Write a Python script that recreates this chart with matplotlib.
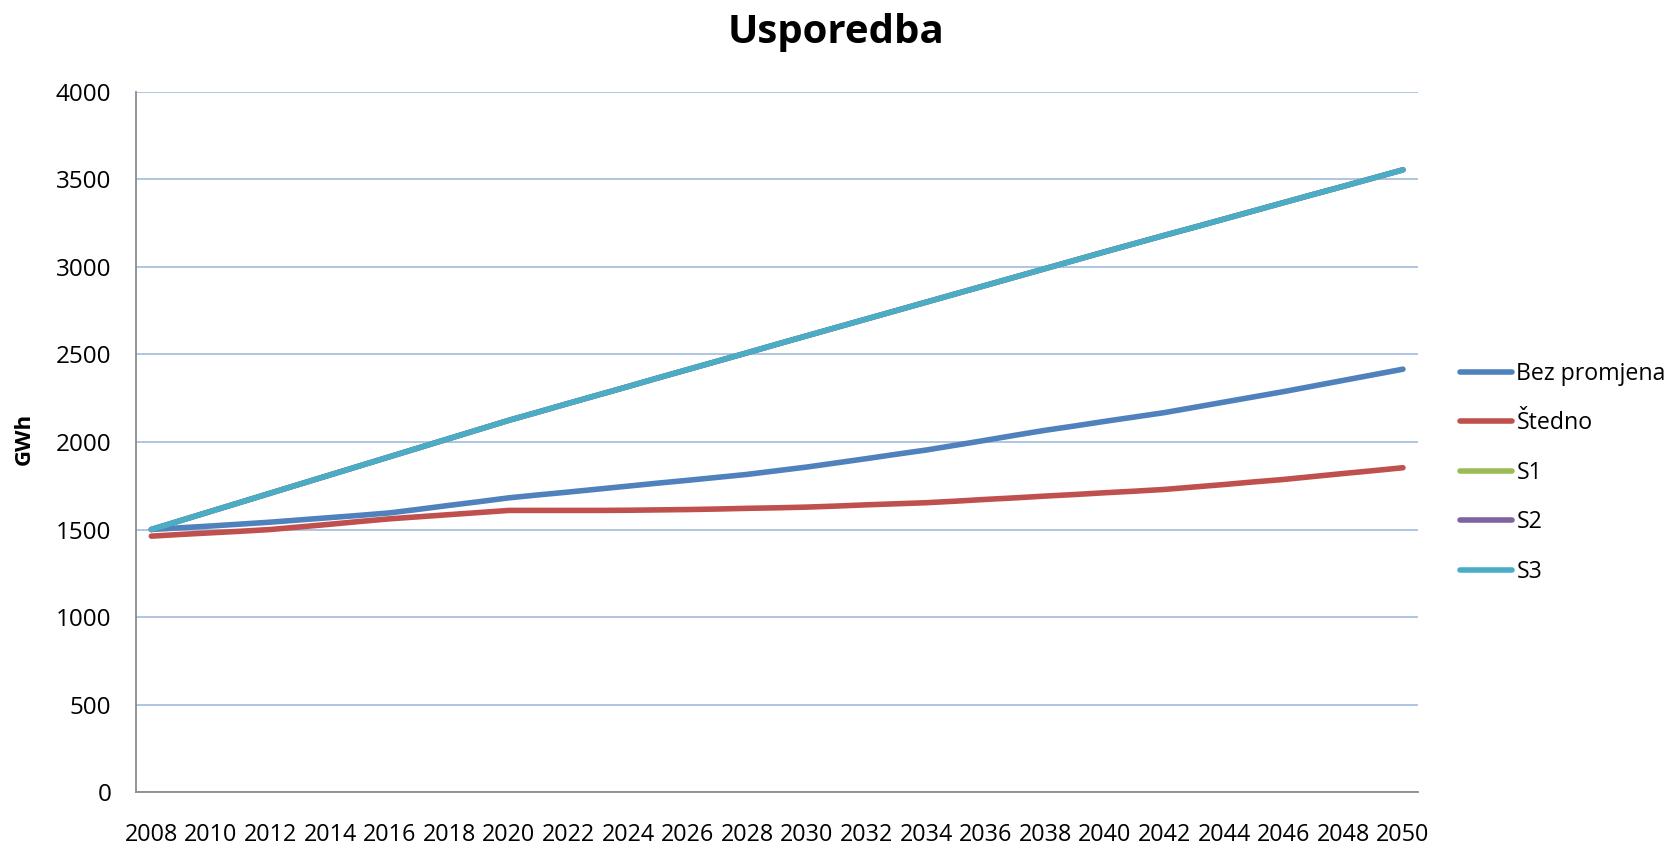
import matplotlib
matplotlib.use('Agg')
import matplotlib.pyplot as plt

# Years on the category axis
years = list(range(2008, 2051))

# Values (GWh)
bez_promjena = [1500, 1510, 1520, 1531, 1542, 1555, 1568, 1581, 1595, 1616,
                1638, 1659, 1681, 1698, 1714, 1731, 1748, 1765, 1781, 1798,
                1815, 1836, 1857, 1881, 1905, 1930, 1954, 1982, 2010, 2039,
                2067, 2092, 2118, 2143, 2168, 2198, 2228, 2258, 2288, 2320,
                2352, 2384, 2416]
stedno = [1462, 1472, 1481, 1490, 1500, 1515, 1530, 1546, 1561, 1573,
          1585, 1597, 1609, 1609, 1609, 1609, 1610, 1612, 1614, 1617,
          1621, 1624, 1628, 1634, 1641, 1647, 1653, 1662, 1672, 1681,
          1691, 1700, 1710, 1719, 1729, 1743, 1757, 1772, 1786, 1803,
          1820, 1836, 1853]
s3 = [1500, 1552, 1604, 1656, 1708, 1760, 1812, 1864, 1916, 1968,
      2020, 2072, 2124, 2172, 2221, 2269, 2317, 2366, 2414, 2462,
      2510, 2559, 2607, 2655, 2703, 2751, 2799, 2847, 2895, 2943,
      2991, 3039, 3087, 3134, 3181, 3227, 3274, 3321, 3368, 3415,
      3461, 3508, 3555]
# S1 and S2 lie exactly under S3 in the picture
s1 = list(s3)
s2 = list(s3)

series = [("Bez promjena", bez_promjena, "#4F81BD"),
          ("Štedno", stedno, "#C0504D"),
          ("S1", s1, "#9BBB59"),
          ("S2", s2, "#8064A2"),
          ("S3", s3, "#4BACC6")]

plt.rcParams['font.family'] = ['Open Sans', 'DejaVu Sans']

fig = plt.figure(figsize=(16.72, 8.46), dpi=100)
ax = fig.add_axes([0.0816, 0.0638, 0.7664, 0.8275])

for name, vals, col in series:
    ax.plot(years, vals, color=col, lw=4.0, label=name,
            solid_capstyle='round', solid_joinstyle='round')

ax.set_xlim(2007.5, 2050.5)
ax.set_ylim(0, 4000)
ax.set_yticks(range(0, 4001, 500))
ax.set_xticks(years[::2])
ax.tick_params(axis='both', length=0, colors='black')
ax.tick_params(axis='x', pad=22, labelsize=16.8)
ax.tick_params(axis='y', pad=18, labelsize=17.5)

ax.grid(axis='y', color='#A9C0DD', lw=1.3)
ax.set_axisbelow(True)
for side in ['top', 'right']:
    ax.spines[side].set_visible(False)
ax.spines['left'].set_color('#8C8C8C')
ax.spines['bottom'].set_color('#8C8C8C')
ax.spines['left'].set_linewidth(1.3)
ax.spines['bottom'].set_linewidth(1.3)

fig.text(0.0145, 0.481, "GWh", rotation=90, fontsize=16, fontweight='bold',
         ha='center', va='center')
fig.suptitle("Usporedba", fontsize=29, fontweight='bold', y=0.985, x=0.5)

ax.legend(loc='center left', bbox_to_anchor=(0.873, 0.441),
          bbox_transform=fig.transFigure, frameon=False, fontsize=16.7,
          handlelength=2.25, handletextpad=0.2, labelspacing=1.1,
          borderpad=0, borderaxespad=0)

plt.savefig("out.png", dpi=100)
plt.close()
